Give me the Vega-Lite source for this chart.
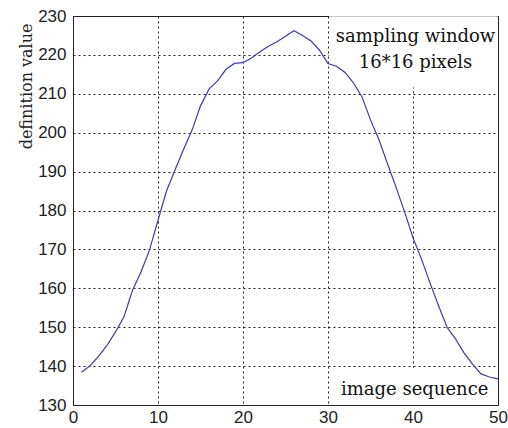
{
  "$schema": "https://vega.github.io/schema/vega-lite/v6.json",
  "width": 425,
  "height": 389,
  "autosize": "none",
  "padding": {"left": 73, "top": 16, "right": 10, "bottom": 23},
  "background": "white",
  "config": {
    "view": {"stroke": "#222", "strokeWidth": 1},
    "axis": {
      "labelFont": "Liberation Sans",
      "labelFontSize": 17,
      "labelColor": "#222",
      "labelOverlap": false,
      "labelFlush": false,
      "domainColor": "#222",
      "ticks": false,
      "grid": true,
      "gridColor": "#222",
      "gridDash": [2, 3],
      "gridWidth": 1,
      "gridOpacity": 1,
      "titleFont": "DejaVu Serif",
      "titleFontSize": 16,
      "titleFontWeight": "normal",
      "titleColor": "#222"
    },
    "axisX": {"labelPadding": 4},
    "axisY": {
      "labelPadding": 7,
      "titleAnchor": "end",
      "titlePadding": 3,
      "titleY": 7
    },
    "text": {"font": "DejaVu Serif", "fontSize": 18, "fontWeight": "normal", "fill": "#111", "align": "center", "baseline": "alphabetic"}
  },
  "datasets": {
    "curve": [
      {"frame": 1, "definition": 138.4},
      {"frame": 2, "definition": 140.1},
      {"frame": 3, "definition": 142.5},
      {"frame": 4, "definition": 145.3},
      {"frame": 5, "definition": 148.8},
      {"frame": 6, "definition": 152.7},
      {"frame": 7, "definition": 159.5},
      {"frame": 8, "definition": 164.2},
      {"frame": 9, "definition": 169.8},
      {"frame": 10, "definition": 177.5},
      {"frame": 11, "definition": 185.0},
      {"frame": 12, "definition": 190.4},
      {"frame": 13, "definition": 195.7},
      {"frame": 14, "definition": 200.6},
      {"frame": 15, "definition": 206.9},
      {"frame": 16, "definition": 211.2},
      {"frame": 17, "definition": 213.3},
      {"frame": 18, "definition": 216.3},
      {"frame": 19, "definition": 217.8},
      {"frame": 20, "definition": 218.0},
      {"frame": 21, "definition": 219.2},
      {"frame": 22, "definition": 220.8},
      {"frame": 23, "definition": 222.2},
      {"frame": 24, "definition": 223.4},
      {"frame": 25, "definition": 224.8},
      {"frame": 26, "definition": 226.2},
      {"frame": 27, "definition": 225.0},
      {"frame": 28, "definition": 223.6},
      {"frame": 29, "definition": 221.2},
      {"frame": 30, "definition": 217.8},
      {"frame": 31, "definition": 217.1},
      {"frame": 32, "definition": 215.5},
      {"frame": 33, "definition": 212.8},
      {"frame": 34, "definition": 209.2},
      {"frame": 35, "definition": 203.3},
      {"frame": 36, "definition": 198.2},
      {"frame": 37, "definition": 192.0},
      {"frame": 38, "definition": 186.0},
      {"frame": 39, "definition": 179.7},
      {"frame": 40, "definition": 173.0},
      {"frame": 41, "definition": 167.5},
      {"frame": 42, "definition": 161.4},
      {"frame": 43, "definition": 155.6},
      {"frame": 44, "definition": 150.0},
      {"frame": 45, "definition": 147.0},
      {"frame": 46, "definition": 143.4},
      {"frame": 47, "definition": 140.5},
      {"frame": 48, "definition": 138.0},
      {"frame": 49, "definition": 137.2},
      {"frame": 50, "definition": 136.7}
    ],
    "notes": [
      {"note": "sampling window"},
      {"note": "16*16 pixels"},
      {"note": "image sequence"}
    ]
  },
  "layer": [
    {
      "data": {"name": "notes"},
      "transform": [{"filter": "datum.note === 'sampling window'"}],
      "mark": {"type": "rect", "fill": "white", "strokeWidth": 0},
      "encoding": {
        "x": {"datum": 30.12, "type": "quantitative", "scale": {"domain": [0, 50], "nice": false}, "axis": {"values": [0, 10, 20, 30, 40, 50], "title": null}},
        "x2": {"datum": 49.95},
        "y": {"datum": 211.6, "type": "quantitative", "scale": {"domain": [130, 230], "nice": false, "zero": false}, "axis": {"values": [130, 140, 150, 160, 170, 180, 190, 200, 210, 220, 230], "title": "definition value"}},
        "y2": {"datum": 229.95}
      }
    },
    {
      "data": {"name": "notes"},
      "transform": [{"filter": "datum.note === 'image sequence'"}],
      "mark": {"type": "rect", "fill": "white", "strokeWidth": 0},
      "encoding": {
        "x": {"datum": 30.5, "type": "quantitative", "scale": {"domain": [0, 50], "nice": false}, "axis": {"values": [0, 10, 20, 30, 40, 50], "title": null}},
        "x2": {"datum": 49.95},
        "y": {"datum": 130.05, "type": "quantitative", "scale": {"domain": [130, 230], "nice": false, "zero": false}, "axis": {"values": [130, 140, 150, 160, 170, 180, 190, 200, 210, 220, 230], "title": "definition value"}},
        "y2": {"datum": 139.6}
      }
    },
    {
      "data": {"name": "curve"},
      "mark": {"type": "line", "color": "#3b3fa8", "strokeWidth": 1.2},
      "encoding": {
        "x": {"field": "frame", "type": "quantitative", "scale": {"domain": [0, 50], "nice": false}, "axis": {"values": [0, 10, 20, 30, 40, 50], "title": null}},
        "y": {"field": "definition", "type": "quantitative", "scale": {"domain": [130, 230], "nice": false, "zero": false}, "axis": {"values": [130, 140, 150, 160, 170, 180, 190, 200, 210, 220, 230], "title": "definition value"}}
      }
    },
    {
      "data": {"name": "notes"},
      "transform": [{"filter": "datum.note === 'sampling window'"}],
      "mark": {"type": "text"},
      "encoding": {
        "x": {"datum": 40.3, "type": "quantitative", "scale": {"domain": [0, 50], "nice": false}, "axis": {"values": [0, 10, 20, 30, 40, 50], "title": null}},
        "y": {"datum": 223.4, "type": "quantitative", "scale": {"domain": [130, 230], "nice": false, "zero": false}, "axis": {"values": [130, 140, 150, 160, 170, 180, 190, 200, 210, 220, 230], "title": "definition value"}},
        "text": {"field": "note"}
      }
    },
    {
      "data": {"name": "notes"},
      "transform": [{"filter": "datum.note === '16*16 pixels'"}],
      "mark": {"type": "text"},
      "encoding": {
        "x": {"datum": 40.3, "type": "quantitative", "scale": {"domain": [0, 50], "nice": false}, "axis": {"values": [0, 10, 20, 30, 40, 50], "title": null}},
        "y": {"datum": 216.7, "type": "quantitative", "scale": {"domain": [130, 230], "nice": false, "zero": false}, "axis": {"values": [130, 140, 150, 160, 170, 180, 190, 200, 210, 220, 230], "title": "definition value"}},
        "text": {"field": "note"}
      }
    },
    {
      "data": {"name": "notes"},
      "transform": [{"filter": "datum.note === 'image sequence'"}],
      "mark": {"type": "text"},
      "encoding": {
        "x": {"datum": 40.2, "type": "quantitative", "scale": {"domain": [0, 50], "nice": false}, "axis": {"values": [0, 10, 20, 30, 40, 50], "title": null}},
        "y": {"datum": 132.6, "type": "quantitative", "scale": {"domain": [130, 230], "nice": false, "zero": false}, "axis": {"values": [130, 140, 150, 160, 170, 180, 190, 200, 210, 220, 230], "title": "definition value"}},
        "text": {"field": "note"}
      }
    }
  ]
}
